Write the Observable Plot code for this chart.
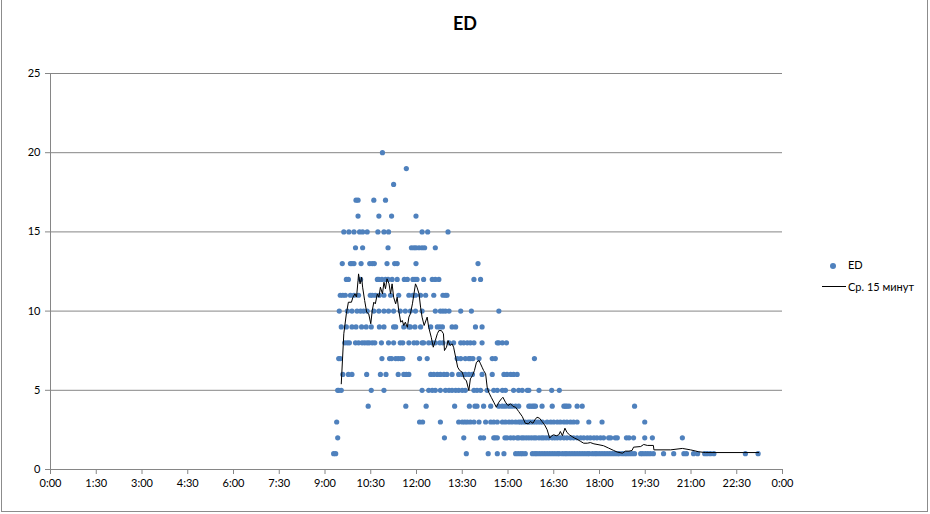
<!DOCTYPE html>
<html><head><meta charset="utf-8">
<script src="https://cdn.jsdelivr.net/npm/d3@7"></script>
<script src="https://cdn.jsdelivr.net/npm/@observablehq/plot@0.6"></script>
<style>
body{margin:0;background:#fff;}
#chart{position:relative;width:930px;height:514px;font-family:Lato,"Open Sans",sans-serif;color:#000;overflow:hidden;}
#frame{position:absolute;left:1px;top:-2px;width:927px;height:514px;border:1px solid #8c8c8c;box-sizing:border-box;pointer-events:none;}
#title{position:absolute;left:0;width:930px;top:12px;text-align:center;font-weight:bold;font-size:18px;}
.leg{position:absolute;font-size:11px;line-height:14px;white-space:nowrap;}
#plot{position:absolute;left:0;top:0;}
</style></head><body>
<div id="chart">
  <div id="plot"></div>
  <div id="title">ED</div>
  <div class="leg" style="left:830px;top:258px;"><span style="display:inline-block;width:6px;height:6px;border-radius:3px;background:#4F81BD;vertical-align:middle;"></span></div>
  <div class="leg" style="left:848px;top:258px;">ED</div>
  <div class="leg" style="left:822px;top:286px;width:24px;height:1px;background:#000;"></div>
  <div class="leg" style="left:848px;top:280px;">Ср. 15 минут</div>
  <div id="frame"></div>
</div>
<script>
// ---- data: times of events by ED value ----
const ed20 = ["10:53"];
const ed19 = ["11:40"];
const ed18 = ["11:15"];
const ed17 = ["10:01","10:05","10:36","10:59"];
const ed16 = ["10:05","10:46","11:11","11:59"];
const ed15 = ["9:37","9:47","9:57","10:08","10:14","10:23","10:44","10:56","11:05","12:11","12:22","13:02"];
const ed14 = ["10:00","10:14","11:04","11:50","11:55","11:59","12:05","12:11","12:16","12:37"];
const ed13 = ["9:34","9:50","9:53","9:57","10:11","10:28","10:33","10:37","11:02","11:17","11:22","11:59","14:01"];
const ed12 = ["9:42","9:46","10:10","10:43","10:46","10:52","10:59","11:04","11:12","11:22","11:36","11:42","11:53","11:57","12:01","12:14","12:31","12:37","12:44","13:53","14:06"];
const ed11 = ["9:30","9:35","9:40","9:50","9:57","10:06","10:29","10:33","10:39","10:47","10:56","11:09","11:25","11:45","11:53","11:58","12:08","12:18","12:34","12:52","12:57","13:00"];
const ed10 = ["9:28","9:44","9:53","10:03","10:10","10:16","10:23","10:36","10:46","10:56","11:05","11:15","11:28","11:38","11:48","11:58","12:11","12:37","12:47","12:52","12:57","13:04","13:27","13:48","14:42"];
const ed9 = ["9:32","9:42","9:53","10:01","10:12","10:21","10:31","10:47","10:56","11:15","11:19","11:35","11:45","11:48","11:57","12:08","12:28","12:41","12:46","12:51","13:10","13:17","13:56","14:09"];
const ed8 = ["9:39","9:44","9:48","10:00","10:06","10:13","10:18","10:23","10:27","10:33","10:38","10:51","11:05","11:15","11:28","11:33","11:45","11:55","12:01","12:11","12:14","12:24","12:31","12:37","12:46","12:52","13:04","13:13","13:27","13:33","13:40","13:46","13:53","14:09","14:39","14:42","14:49","14:57"];
const ed7 = ["9:27","9:30","10:52","11:07","11:11","11:19","11:24","11:29","11:33","12:06","12:21","13:20","13:27","13:36","13:43","13:46","13:51","14:03","14:29","14:35","15:52"];
const ed6 = ["9:35","9:46","9:53","10:22","10:49","11:00","11:24","11:35","11:40","11:45","12:28","12:34","12:41","12:47","12:54","13:00","13:10","13:23","13:30","13:36","13:43","13:50","14:09","14:29","14:52","14:58","15:05","15:11","15:18"];
const ed5 = ["9:25","9:27","9:32","10:31","10:56","12:11","12:24","12:31","12:37","12:47","12:57","13:04","13:10","13:17","13:23","13:30","13:36","13:53","13:59","14:06","14:19","14:32","14:39","14:49","14:55","15:11","15:21","15:28","15:38","15:41","16:01","16:26","16:41"];
const ed4 = ["10:25","11:39","12:19","13:15","13:44","13:55","13:59","14:12","14:26","14:42","14:49","14:55","15:02","15:08","15:15","15:21","15:41","15:44","15:48","15:51","15:54","16:07","16:27","16:50","16:53","16:56","17:00","17:16","17:26","19:09"];
const ed3 = ["9:23","12:06","12:12","12:47","13:23","13:30","13:35","13:40","13:46","13:53","14:03","14:16","14:26","14:32","14:39","14:49","14:55","15:02","15:08","15:15","15:21","15:25","15:29","15:34","15:40","15:44","15:49","15:54","15:59","16:04","16:08","16:17","16:24","16:30","16:37","16:43","16:50","16:56","17:03","17:09","17:16","17:39","18:05","19:29"];
const ed2 = ["9:25","12:55","13:33","14:06","14:12","14:32","14:35","14:39","14:54","14:58","15:05","15:11","15:18","15:21","15:27","15:31","15:36","15:41","15:46","15:51","15:55","16:01","16:06","16:10","16:15","16:20","16:27","16:32","16:37","16:43","16:50","16:56","17:03","17:09","17:16","17:23","17:29","17:36","17:42","17:49","17:55","18:02","18:08","18:18","18:22","18:31","18:35","18:53","18:58","19:07","19:29","19:44","20:43"];
const ed1 = ["9:17","9:21","13:38","14:21","14:39","14:52","15:15","15:20","15:25","15:29","15:34","15:48","15:53","15:57","16:02","16:07","16:12","16:17","16:22","16:27","16:32","16:37","16:41","16:47","16:52","16:56","17:01","17:06","17:11","17:16","17:21","17:26","17:31","17:36","17:40","17:46","17:51","17:55","18:00","18:05","18:10","18:15","18:20","18:25","18:30","18:35","18:39","18:45","18:50","18:54","18:59","19:04","19:09","19:21","19:25","19:30","19:35","19:40","19:46","20:06","20:26","20:46","20:51","21:05","21:13","21:27","21:32","21:38","21:45","22:47","23:12"];

// ---- 15-minute moving average ----
const maTimes = ["9:32","9:37","9:42","9:46","9:52","9:55","9:59","10:02","10:05","10:06","10:09","10:12","10:14","10:18","10:22","10:26","10:30","10:33","10:36","10:39","10:43","10:46","10:49","10:53","10:56","10:59","11:02","11:06","11:09","11:12","11:15","11:19","11:22","11:25","11:29","11:32","11:35","11:38","11:42","11:45","11:48","11:52","11:55","11:58","12:01","12:05","12:08","12:11","12:15","12:21","12:24","12:29","12:33","12:37","12:41","12:44","12:49","12:53","12:55","12:59","13:02","13:06","13:10","13:13","13:17","13:21","13:25","13:30","13:34","13:38","13:43","13:46","13:50","13:54","13:58","14:03","14:06","14:09","14:12","14:16","14:19","14:22","14:27","14:32","14:37","14:42","14:47","14:50","14:55","15:00","15:05","15:10","15:15","15:21","15:28","15:34","15:40","15:44","15:49","15:53","15:57","16:02","16:07","16:12","16:17","16:22","16:26","16:30","16:35","16:40","16:43","16:47","16:52","16:56","17:01","17:06","17:11","17:16","17:23","17:29","17:36","17:42","17:49","17:59","18:08","18:18","18:28","18:35","18:45","18:51","18:58","19:04","19:07","19:21","19:27","19:34","19:46","19:47","20:20","20:43","20:59","21:15","21:28","22:44","23:13"];
const maValues = [5.41,8.57,9.83,10.56,10.56,10.88,11.09,10.88,11.93,12.35,11.72,12.14,11.51,10.67,9.93,9.83,9.2,10.04,10.56,10.46,11.09,10.88,11.51,11.09,11.82,11.41,12.04,11.72,11.09,11.72,10.88,10.46,10.88,10.04,9.3,9.41,9.09,9.3,8.98,9.62,9.83,10.46,11.09,11.72,11.51,11.09,10.25,9.62,9.09,9.62,8.98,8.35,7.72,8.14,8.57,8.77,8.77,8.57,7.51,7.72,8.14,7.83,7.93,7.72,7.09,6.46,6.25,6.14,5.72,5.62,4.99,5.72,5.93,6.25,6.77,6.88,6.67,6.46,6.25,6.04,5.2,4.88,4.56,4.25,3.93,4.25,4.46,4.56,4.25,4.04,4.15,3.98,3.93,3.66,3.35,2.92,2.88,3.03,2.92,3.14,3.30,3.24,3.03,2.82,2.51,1.98,2.13,2.19,2.13,2.19,2.4,2.13,2.61,2.34,2.19,2.08,1.98,1.91,1.77,1.66,1.66,1.70,1.62,1.56,1.50,1.35,1.2,1.1,1.03,1.16,1.16,1.2,1.41,1.45,1.58,1.52,1.52,1.24,1.24,1.33,1.24,1.12,1.07,1.07,1.07];

// ---- axes ----
const xTicks = [0,1.5,3,4.5,6,7.5,9,10.5,12,13.5,15,16.5,18,19.5,21,22.5,24];
const xTickLabels = ["0:00","1:30","3:00","4:30","6:00","7:30","9:00","10:30","12:00","13:30","15:00","16:30","18:00","19:30","21:00","22:30","0:00"];
const yTicks = [0,5,10,15,20,25];

const toHours = s => { const [h,m] = s.split(":").map(Number); return h + m/60; };
const rows = [[1,ed1],[2,ed2],[3,ed3],[4,ed4],[5,ed5],[6,ed6],[7,ed7],[8,ed8],[9,ed9],[10,ed10],[11,ed11],[12,ed12],[13,ed13],[14,ed14],[15,ed15],[16,ed16],[17,ed17],[18,ed18],[19,ed19],[20,ed20]];
const points = rows.flatMap(([v, ts]) => ts.map(t => ({t: toHours(t), v})));
const ma = maTimes.map((t,i) => ({t: toHours(t), v: maValues[i]}));
const labelOf = new Map(xTicks.map((d,i) => [d, xTickLabels[i]]));

const plot = Plot.plot({
  width: 930, height: 514,
  marginLeft: 50, marginRight: 148, marginTop: 73, marginBottom: 45,
  style: {fontFamily: "Lato, 'Open Sans', sans-serif", fontSize: "11px", color: "#000", background: "transparent"},
  x: {domain: [0, 24], label: null},
  y: {domain: [0, 25], label: null},
  marks: [
    Plot.ruleY(yTicks.filter(d => d > 0), {stroke: "#868686", strokeWidth: 1}),
    Plot.ruleX([0], {stroke: "#868686"}),
    Plot.ruleY([0], {stroke: "#868686"}),
    Plot.axisX({ticks: xTicks, tickFormat: d => labelOf.get(d), tickSize: 5, tickPadding: 5, stroke: "#868686", fill: "#000", label: null}),
    Plot.axisY({ticks: yTicks, tickSize: 5, tickPadding: 5, stroke: "#868686", fill: "#000", label: null}),
    Plot.dot(points, {x: "t", y: "v", r: 2.6, fill: "#4F81BD", stroke: "none"}),
    Plot.line(ma, {x: "t", y: "v", stroke: "#000", strokeWidth: 1})
  ]
});
document.getElementById("plot").appendChild(plot);
</script>
</body></html>
